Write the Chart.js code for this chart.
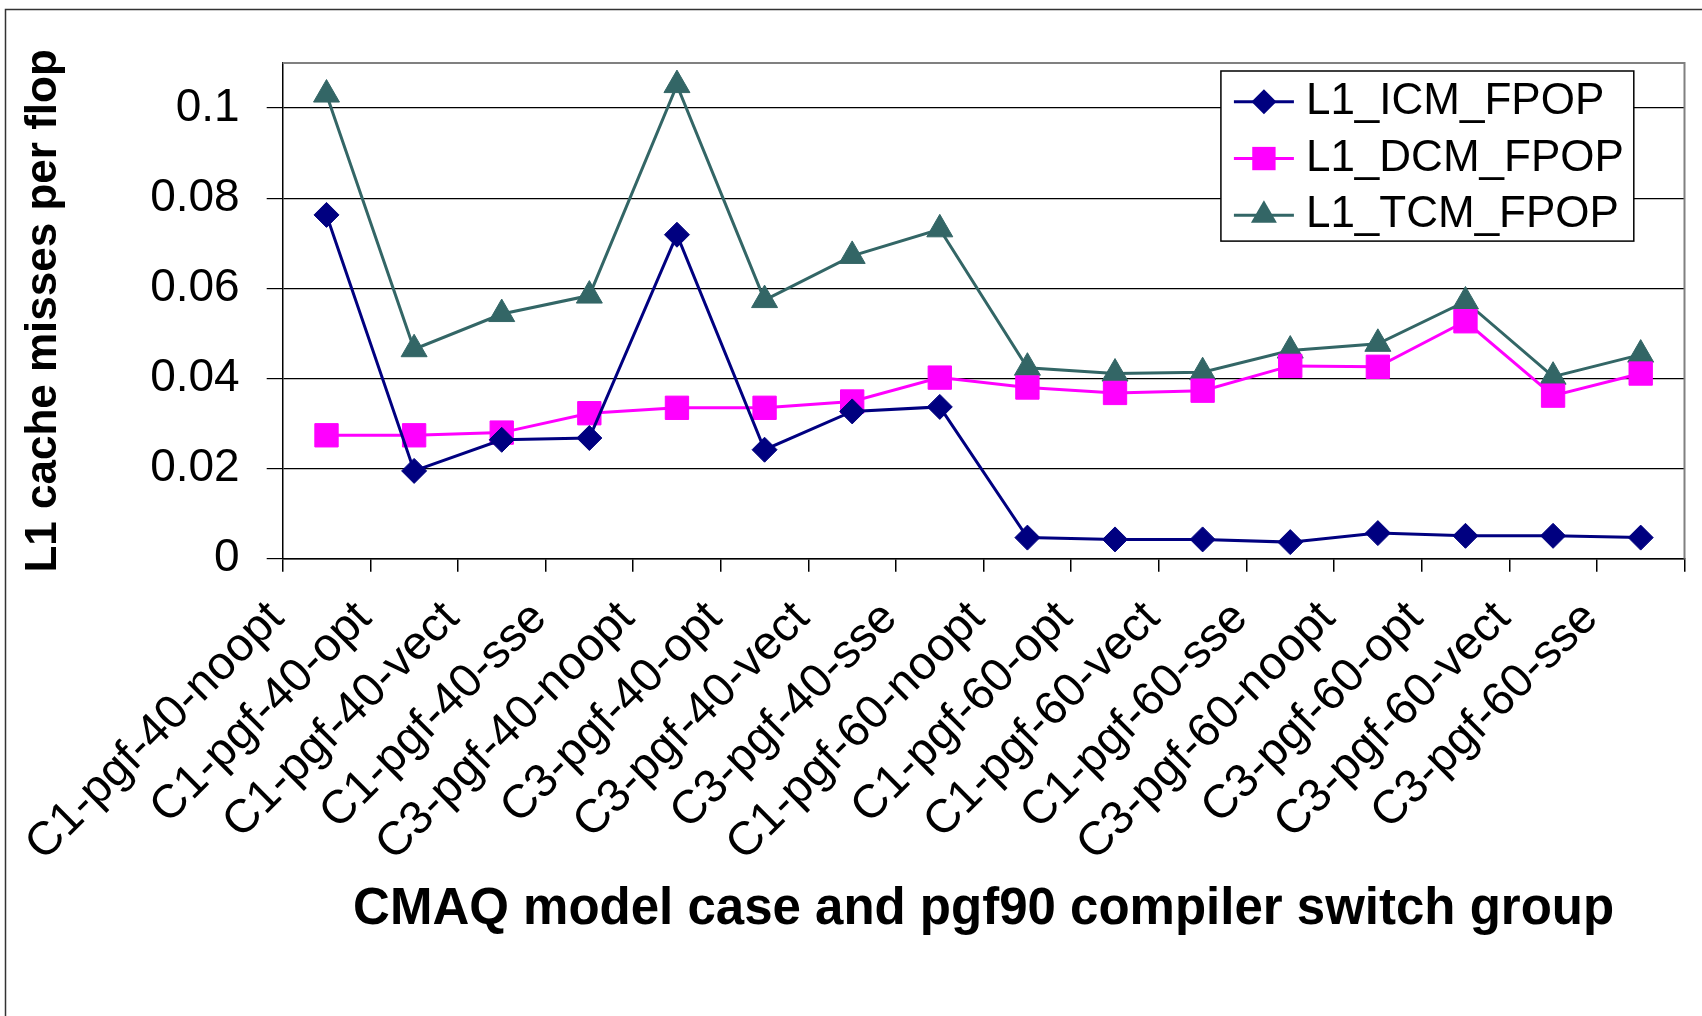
<!DOCTYPE html>
<html>
<head>
  <title>L1 cache misses per flop</title>
  <script src="https://cdn.jsdelivr.net/npm/chart.js@4.4.1/dist/chart.umd.min.js"></script>
  <style>
    html, body { margin: 0; padding: 0; background: #fff; }
    canvas { display: block; }
  </style>
</head>
<body>
  <canvas id="l1-misses" width="1702" height="1016"></canvas>

  <script>
    const categories = [
      'C1-pgf-40-noopt', 'C1-pgf-40-opt', 'C1-pgf-40-vect', 'C1-pgf-40-sse',
      'C3-pgf-40-noopt', 'C3-pgf-40-opt', 'C3-pgf-40-vect', 'C3-pgf-40-sse',
      'C1-pgf-60-noopt', 'C1-pgf-60-opt', 'C1-pgf-60-vect', 'C1-pgf-60-sse',
      'C3-pgf-60-noopt', 'C3-pgf-60-opt', 'C3-pgf-60-vect', 'C3-pgf-60-sse'
    ];
    const icmValues = [0.0763, 0.0195, 0.0264, 0.0268, 0.0719, 0.0242, 0.0327, 0.0337,
                       0.0047, 0.0043, 0.0043, 0.0037, 0.0057, 0.0051, 0.0051, 0.0047];
    const dcmValues = [0.0274, 0.0274, 0.0280, 0.0323, 0.0335, 0.0335, 0.0349, 0.0402,
                       0.0380, 0.0368, 0.0373, 0.0428, 0.0426, 0.0527, 0.0362, 0.0411];
    const tcmValues = [0.1030, 0.0465, 0.0543, 0.0584, 0.1051, 0.0574, 0.0672, 0.0731,
                       0.0424, 0.0411, 0.0414, 0.0462, 0.0477, 0.0571, 0.0404, 0.0453];
    const yTicks = [0, 0.02, 0.04, 0.06, 0.08, 0.1];

    const FONT = '"Liberation Sans", Arial, sans-serif';

    function drawMarker(ctx, style, x, y, r) {
      ctx.beginPath();
      if (style === 'rectRot') {
        ctx.moveTo(x, y - r); ctx.lineTo(x + r, y); ctx.lineTo(x, y + r); ctx.lineTo(x - r, y);
      } else if (style === 'rect') {
        const s = r * Math.SQRT1_2;
        ctx.rect(x - s, y - s, 2 * s, 2 * s);
      } else {
        ctx.moveTo(x, y - r);
        ctx.lineTo(x + r * Math.sqrt(3) / 2, y + r / 2);
        ctx.lineTo(x - r * Math.sqrt(3) / 2, y + r / 2);
      }
      ctx.closePath();
      ctx.fill();
    }

    // gray frame on top and right of the plot, box around the whole picture
    const frame = {
      id: 'frame',
      beforeDatasetsDraw(chart) {
        const {ctx, chartArea: a} = chart;
        ctx.save();
        ctx.strokeStyle = '#808080';
        ctx.lineWidth = 2;
        ctx.beginPath();
        ctx.moveTo(a.left, a.top);
        ctx.lineTo(a.right, a.top);
        ctx.lineTo(a.right, a.bottom);
        ctx.stroke();
        ctx.restore();
      },
      afterDraw(chart) {
        const ctx = chart.ctx;
        ctx.save();
        ctx.strokeStyle = '#333';
        ctx.lineWidth = 1.5;
        ctx.strokeRect(5.5, 9.5, 2000, 2000);
        ctx.restore();
      }
    };

    // legend boxed inside the plot, upper right
    const legendBox = {
      id: 'legendBox',
      afterDatasetsDraw(chart) {
        const {ctx, chartArea} = chart;
        const sets = chart.data.datasets;
        ctx.save();
        ctx.font = '44px ' + FONT;
        const textW = Math.max(...sets.map(d => ctx.measureText(d.label).width));
        const rowH = 56.7;
        const w = 85 + textW + 10, h = rowH * sets.length;
        const x0 = chartArea.right - 50.7 - w, y0 = chartArea.top + 8;
        ctx.fillStyle = '#fff';
        ctx.fillRect(x0, y0, w, h);
        ctx.strokeStyle = '#000';
        ctx.lineWidth = 1.5;
        ctx.strokeRect(x0, y0, w, h);
        sets.forEach((d, i) => {
          const cy = y0 + rowH * (i + 0.5) + 2.5;
          ctx.strokeStyle = d.borderColor;
          ctx.lineWidth = d.borderWidth;
          ctx.beginPath();
          ctx.moveTo(x0 + 13, cy);
          ctx.lineTo(x0 + 73, cy);
          ctx.stroke();
          ctx.fillStyle = d.backgroundColor;
          drawMarker(ctx, d.pointStyle, x0 + 43, cy, d.pointRadius);
          ctx.fillStyle = '#000';
          ctx.textBaseline = 'middle';
          ctx.textAlign = 'left';
          ctx.fillText(d.label, x0 + 85, cy);
        });
        ctx.restore();
      }
    };

    new Chart(document.getElementById('l1-misses').getContext('2d'), {
      type: 'line',
      data: {
        labels: categories,
        datasets: [
          {
            label: 'L1_ICM_FPOP', data: icmValues,
            borderColor: '#000080', backgroundColor: '#000080',
            borderWidth: 3, pointStyle: 'rectRot', pointRadius: 12.5, pointBorderWidth: 1
          },
          {
            label: 'L1_DCM_FPOP', data: dcmValues,
            borderColor: '#ff00ff', backgroundColor: '#ff00ff',
            borderWidth: 3, pointStyle: 'rect', pointRadius: 16.5, pointBorderWidth: 1
          },
          {
            label: 'L1_TCM_FPOP', data: tcmValues,
            borderColor: '#336666', backgroundColor: '#336666',
            borderWidth: 3, pointStyle: 'triangle', pointRadius: 15, pointBorderWidth: 1
          }
        ]
      },
      options: {
        responsive: false,
        animation: false,
        clip: false,
        layout: { padding: { left: 0, top: 63, right: 15, bottom: 0 } },
        plugins: { legend: { display: false }, tooltip: { enabled: false } },
        elements: { line: { tension: 0 } },
        scales: {
          x: {
            offset: true,
            afterFit: s => { s.height = 457.2; },
            grid: { offset: true, drawOnChartArea: false, drawTicks: true, tickLength: 13, color: '#000', lineWidth: 1.5 },
            border: { color: '#000', width: 1.5 },
            ticks: {
              autoSkip: false, minRotation: 45, maxRotation: 45,
              labelOffset: -50, padding: 19, color: '#000',
              font: { family: FONT, size: 47 }
            },
            title: {
              display: true, text: 'CMAQ model case and pgf90 compiler switch group',
              color: '#000', font: { family: FONT, size: 51, weight: 'bold' },
              padding: { top: 0, bottom: 75 }
            }
          },
          y: {
            min: 0, max: 0.11,
            afterFit: s => { s.width = 282.7; },
            afterBuildTicks: s => { s.ticks = yTicks.map(v => ({ value: v })); },
            grid: { color: '#000', lineWidth: 1.2, tickLength: 16 },
            border: { color: '#000', width: 1.5 },
            ticks: {
              padding: 27, color: '#000',
              font: { family: FONT, size: 46 },
              callback: v => String(+v.toFixed(2))
            },
            title: {
              display: true, text: 'L1 cache misses per flop',
              color: '#000', font: { family: FONT, size: 44, weight: 'bold' },
              padding: { top: 17, bottom: 0 }
            }
          }
        }
      },
      plugins: [frame, legendBox]
    });
  </script>
</body>
</html>
